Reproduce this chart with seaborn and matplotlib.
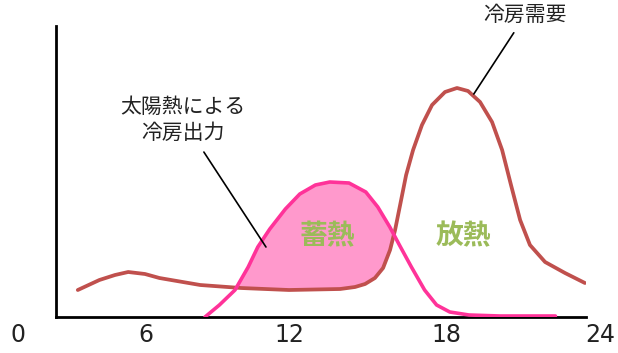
import numpy as np
import seaborn as sns
import matplotlib.pyplot as plt
import matplotlib.transforms as mtransforms

# hour of day and relative load (arbitrary units)
demand_hour = [3.2, 4.1, 4.75, 5.3, 6.0, 6.6, 8.3, 10.0, 12.0, 14.13, 14.75,
               15.17, 15.58, 15.92, 16.21, 16.42, 16.63, 16.88, 17.17, 17.54,
               17.96, 18.5, 19.0, 19.46, 19.96, 20.46, 20.88, 21.25, 21.63,
               22.04, 22.67, 23.5, 24.33]
demand_load = [27, 37, 42, 45, 43, 39, 32, 29, 27, 28, 30,
               33, 39, 49, 67, 87, 112, 142, 167, 192,
               212, 225, 229, 226, 215, 195, 167, 132, 97,
               72, 55, 44, 34]

solar_hour = [8.5, 9.1, 9.75, 10.3, 10.7, 11.2, 11.85, 12.45, 13.1, 13.7, 14.5,
              15.2, 15.7, 16.2, 16.6, 17.1, 17.65, 18.15, 18.7, 19.5, 20.8, 23.1]
solar_load = [0, 12, 27, 50, 70, 88, 108, 123, 132, 135, 134,
              125, 110, 90, 72, 50, 27, 12, 5, 2, 1, 1]

tick_pos = [0.71, 6.04, 12.0, 18.54, 24.96]
tick_labels = ['0', '6', '12', '18', '24']

sns.set_style('white')
plt.rcParams['font.family'] = ['Noto Sans CJK JP', 'DejaVu Sans']

fig = plt.figure(figsize=(6.18, 3.53), dpi=100)
ax = fig.add_axes([56 / 618, 36 / 353, 530 / 618, 291 / 353])

# stored heat: area where solar output exceeds demand
sh = np.array(solar_hour)
sl = np.array(solar_load)
dl = np.interp(sh, demand_hour, demand_load)
ax.fill_between(sh, sl, dl, where=sl > dl, interpolate=True,
                color='#ff99cc', lw=0, zorder=1)

sns.lineplot(x=solar_hour, y=solar_load, ax=ax, color='#ff3399', lw=2.6,
             zorder=3, sort=False)
sns.lineplot(x=demand_hour, y=demand_load, ax=ax, color='#c0504d', lw=2.7,
             zorder=2, sort=False)

ax.set_xlim(55 / 24, 585 / 24)
ax.set_ylim(0, 291)
ax.set_xticks([])
ax.set_yticks([])
ax.set_xlabel('')
ax.set_ylabel('')
sns.despine(ax=ax)
for s in ['left', 'bottom']:
    ax.spines[s].set_color('black')
    ax.spines[s].set_linewidth(2)

trans = mtransforms.blended_transform_factory(ax.transData, ax.transAxes)
for p, t in zip(tick_pos, tick_labels):
    ax.text(p, -0.062, t, transform=trans, ha='center', va='center',
            fontsize=17, color='#222222', clip_on=False,
            family=['DejaVu Sans'])

# labels
ax.text(13.6, 81, '蓄熱', ha='center', va='center', fontsize=20,
        color='#9bbb59', fontweight='bold', zorder=4)
ax.text(19.25, 81, '放熱', ha='center', va='center', fontsize=20,
        color='#9bbb59', fontweight='bold', zorder=4)

ax.annotate('冷房需要', xy=(19.7, 223), xytext=(21.85, 302),
            ha='center', va='center', fontsize=15, color='#222222',
            arrowprops=dict(arrowstyle='-', color='black', lw=1.2,
                            shrinkA=3, shrinkB=0),
            annotation_clip=False)
ax.annotate('太陽熱による\n冷房出力', xy=(11.04, 70), xytext=(7.58, 197),
            ha='center', va='center', fontsize=15, color='#222222',
            linespacing=1.25,
            arrowprops=dict(arrowstyle='-', color='black', lw=1.2,
                            shrinkA=4, shrinkB=0),
            annotation_clip=False)

plt.savefig('out.png', dpi=100)
